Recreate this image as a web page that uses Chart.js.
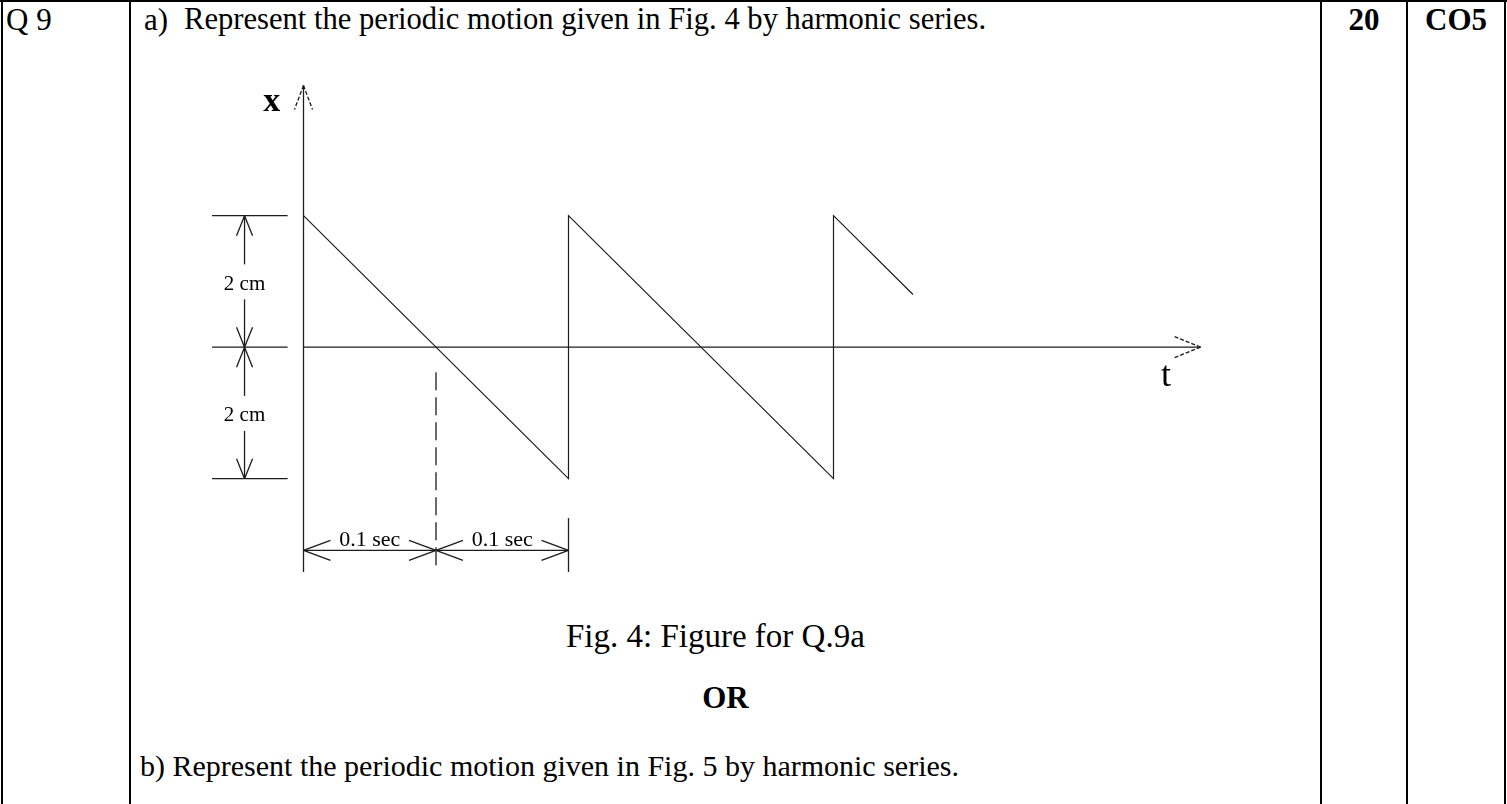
<!DOCTYPE html>
<html lang="en">
<head>
    <meta charset="UTF-8">
    <title>Q 9</title>
    <script src="https://cdn.jsdelivr.net/npm/chart.js"></script>
    <style>
        body { margin: 0; background: #fff; }
        .page { position: relative; width: 1507px; height: 804px; overflow: hidden; font-family: "Liberation Serif", "Times New Roman", serif; color: #000; }
        .rule { position: absolute; background: #000; }
        .txt { position: absolute; font-size: 31px; line-height: 31px; white-space: pre; }
        .bold { font-weight: bold; }
        #fig { position: absolute; left: 171px; top: 71px; }
    </style>
</head>
<body>
    <div class="page">
        <!-- table rules -->
        <div class="rule" style="left:0;top:0;width:1507px;height:2px"></div>
        <div class="rule" style="left:1px;top:0;width:2px;height:804px"></div>
        <div class="rule" style="left:129px;top:0;width:2px;height:804px"></div>
        <div class="rule" style="left:1320px;top:0;width:2px;height:804px"></div>
        <div class="rule" style="left:1406px;top:0;width:2px;height:804px"></div>
        <div class="rule" style="left:1504px;top:0;width:2px;height:804px"></div>

        <div class="txt" style="left:6px;top:4px">Q 9</div>
        <div class="txt" style="left:144px;top:4px">a)</div>
        <div class="txt" style="left:184px;top:4px;font-size:30.6px">Represent the periodic motion given in Fig. 4 by harmonic series.</div>
        <div class="txt bold" style="left:1322px;top:4px;width:84px;text-align:center">20</div>
        <div class="txt bold" style="left:1408px;top:4px;width:96px;text-align:center">CO5</div>

        <canvas id="fig" width="1060" height="526"></canvas>

        <div class="txt" style="left:566px;top:620px;font-size:33px;line-height:33px">Fig. 4: Figure for Q.9a</div>
        <div class="txt bold" style="left:131px;top:682px;width:1189px;text-align:center">OR</div>
        <div class="txt" style="left:140px;top:750px;font-size:30px">b) Represent the periodic motion given in Fig. 5 by harmonic series.</div>
    </div>
    <script>
        // sawtooth: displacement x (cm) against time t (sec)
        const timeSec = [0, 0.2, 0.2, 0.4, 0.4, 0.46];
        const dispCm = [2, -2, 2, -2, 2, 0.8];

        // dimension marks
        const ampLevels = [2, 0, -2];
        const ampLabels = ['2 cm', '2 cm'];
        const timeMarks = [0, 0.1, 0.2];
        const timeLabels = ['0.1 sec', '0.1 sec'];

        // axis extents
        const xAxisRange = [-3.42, 3.98];
        const tAxisEnd = 0.677;

        const ink = '#1c1c1c';

        function line(ctx, x1, y1, x2, y2) {
            ctx.beginPath();
            ctx.moveTo(x1, y1);
            ctx.lineTo(x2, y2);
            ctx.stroke();
        }

        // open arrow head, tip at (x, y), pointing in direction (dx, dy)
        function head(ctx, x, y, dx, dy, len, half) {
            const px = -dy, py = dx;
            line(ctx, x, y, x - dx * len + px * half, y - dy * len + py * half);
            line(ctx, x, y, x - dx * len - px * half, y - dy * len - py * half);
        }

        const figureMarks = {
            id: 'figureMarks',
            afterDatasetsDraw(chart) {
                const { ctx, scales: { x, y } } = chart;
                const px = v => x.getPixelForValue(v);
                const py = v => y.getPixelForValue(v);
                ctx.save();
                ctx.strokeStyle = ink;
                ctx.fillStyle = '#000';
                ctx.lineWidth = 1.3;

                // axes
                const x0 = px(0), y0 = py(0);
                line(ctx, x0, py(xAxisRange[0]), x0, py(xAxisRange[1]));
                line(ctx, x0, y0, px(tAxisEnd), y0);
                ctx.setLineDash([4, 2]);
                head(ctx, x0, py(xAxisRange[1]), 0, -1, 24, 9);
                head(ctx, px(tAxisEnd), y0, 1, 0, 27, 11);
                ctx.setLineDash([]);

                ctx.font = 'bold 34px "Liberation Serif", serif';
                ctx.textAlign = 'center';
                ctx.textBaseline = 'middle';
                ctx.fillText('x', px(-0.024), py(3.72));
                ctx.font = '36px "Liberation Serif", serif';
                ctx.fillText('t', px(0.651), py(-0.44));

                // amplitude dimension on the left
                const dimX = px(-0.0445);
                ampLevels.forEach(v => line(ctx, px(-0.069), py(v), px(-0.012), py(v)));
                ctx.font = '21px "Liberation Serif", serif';
                ampLabels.forEach((lab, i) => {
                    const top = py(ampLevels[i]), bot = py(ampLevels[i + 1]);
                    const mid = (top + bot) / 2;
                    line(ctx, dimX, top, dimX, mid - 17);
                    line(ctx, dimX, mid + 18, dimX, bot);
                    head(ctx, dimX, top, 0, -1, 20, 8);
                    head(ctx, dimX, bot, 0, 1, 20, 8);
                    ctx.fillText(lab, dimX, mid + 3);
                });

                // time dimension below
                const dimY = py(-3.09);
                line(ctx, px(timeMarks[0]), dimY, px(timeMarks[2]), dimY);
                ctx.setLineDash([18, 7]);
                line(ctx, px(timeMarks[1]), py(-0.38), px(timeMarks[1]), py(xAxisRange[0]));
                ctx.setLineDash([]);
                line(ctx, px(timeMarks[2]), py(-2.6), px(timeMarks[2]), py(xAxisRange[0]));
                ctx.font = '22px "Liberation Serif", serif';
                timeLabels.forEach((lab, i) => {
                    const a = px(timeMarks[i]), b = px(timeMarks[i + 1]);
                    head(ctx, a, dimY, -1, 0, 27, 10);
                    head(ctx, b, dimY, 1, 0, 27, 10);
                    ctx.fillText(lab, (a + b) / 2, dimY - 10);
                });
                ctx.restore();
            }
        };

        new Chart(document.getElementById('fig'), {
            type: 'scatter',
            data: {
                datasets: [{
                    data: timeSec.map((t, i) => ({ x: t, y: dispCm[i] })),
                    showLine: true,
                    borderColor: ink,
                    borderWidth: 1.2,
                    pointRadius: 0,
                    tension: 0
                }]
            },
            options: {
                responsive: false,
                animation: false,
                layout: { padding: 0 },
                plugins: { legend: { display: false }, tooltip: { enabled: false } },
                scales: {
                    x: { type: 'linear', min: -0.1, max: 0.7, display: false },
                    y: { type: 'linear', min: -3.8, max: 4.2, display: false }
                }
            },
            plugins: [figureMarks]
        });
    </script>
</body>
</html>
